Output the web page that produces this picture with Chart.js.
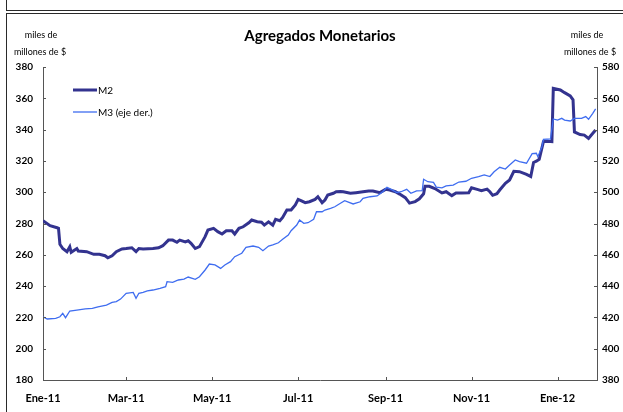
<!DOCTYPE html>
<html>
<head>
<meta charset="utf-8">
<script src="https://cdn.jsdelivr.net/npm/chart.js@4/dist/chart.umd.min.js"></script>
<style>
  html, body { margin:0; padding:0; background:#fff; overflow:hidden; }
  #wrap { position:relative; width:623px; height:412px; overflow:hidden; }
  .box { position:absolute; box-sizing:border-box; border:1.5px solid #2a2a2a; }
  #b1 { left:6px; top:-4px; width:700px; height:14.5px; }
  #b2 { left:6px; top:13.3px; width:700px; height:500px; }
  canvas { position:absolute; left:0; top:0; }
</style>
</head>
<body>
<div id="wrap">
  <div class="box" id="b1"></div>
  <div class="box" id="b2"></div>
  <canvas id="c" width="623" height="412"></canvas>
</div>
<script>
// ---- Data (days since 1 Jan 2011) ----
const chartTitle = "Agregados Monetarios";
const unitLines = ["miles de", "millones de $"];
const seriesLabels = ["M2", "M3 (eje der.)"];

const tickDays   = [0, 59, 120, 181, 243, 304, 365];
const tickLabels = ["Ene-11", "Mar-11", "May-11", "Jul-11", "Sep-11", "Nov-11", "Ene-12"];

const m2Days = [0,5,10,11,12,14,17,19,20,24,
  25,31,36,40,44,46,49,52,56,59,
  63,66,68,71,78,82,85,89,92,95,
  97,101,103,105,108,111,115,117,121,124,
  127,130,134,136,139,142,146,148,152,155,
  157,160,163,165,168,170,173,176,179,181,
  183,186,189,193,195,198,200,202,206,208,
  211,213,218,222,227,231,234,239,243,246,
  250,253,257,260,264,267,270,271,274,278,
  283,286,290,293,297,302,304,308,311,315,
  317,319,322,324,328,331,334,338,343,346,
  348,350,352,355,358,361,362,367,370,374,
  376,377,381,384,387,389,392];
const m2Values = [281.8,278.6,277.3,276.9,266.7,264,262,265.2,261.6,264,
  262.4,262,260.3,260.3,259.4,258.1,259.4,262,263.7,264,
  264.5,262,264,263.7,264,264.5,265.8,269.4,269.4,268,
  269.4,268.2,269,267.3,264,265.2,271.6,275.8,276.9,274.8,
  273.3,275.4,275.4,273.3,276.9,277.9,280.5,282.2,281.1,280.8,
  279,281.1,279,282.7,281.8,283.9,288.6,288.6,291.8,295.4,
  294.6,293.3,293.9,295.4,297.1,293.3,295,298.2,299.3,300.3,
  300.5,300.3,299.3,299.7,300.3,300.8,300.8,299.7,301.8,301.4,
  300.3,298.8,296.5,293,294,295.8,299,303.8,303.8,302.3,
  299.5,300.3,297.8,299.5,299.5,299.7,302.8,301.8,301,302,
  300.3,298,299,301.4,305.7,307.8,313.4,313.1,311.4,310,
  319,319.8,321,332.3,332.5,332.3,366.4,365.3,363.6,361.5,
  359,338.5,336.8,336.5,334.4,336.5,339.7];

const m3Days = [0,3,9,12,14,16,19,24,30,35,
  39,45,49,52,55,59,64,66,68,71,
  74,78,83,87,88,92,96,100,103,108,
  111,115,118,122,126,129,133,136,141,144,
  149,153,156,160,163,167,170,174,176,180,
  182,185,188,192,194,198,200,204,207,211,
  214,220,225,227,232,237,241,244,247,251,
  254,258,261,265,269,270,273,277,279,283,
  286,291,295,300,304,309,313,317,320,324,
  328,331,335,338,343,347,350,351,354,355,
  360,362,365,368,370,374,377,382,385,387,
  390,392];
const m3Values = [420.4,419,419.4,420.4,422.6,419.8,424.1,424.7,425.4,425.8,
  426.8,427.9,429.6,430.1,431.7,435.4,436,432.2,435.4,436,
  436.9,437.5,438.6,439.6,442.8,442.4,443.9,444.5,445.8,444.3,
  446,450.3,454.1,453.5,451.3,453.5,455.6,458.8,461,464.8,
  465.6,464.8,462.6,465.6,466.3,467.7,469.9,472.6,475.4,479,
  482.2,480.1,480.5,482.7,487.5,487.5,488.6,489.7,490.7,492.9,
  494.6,492.5,493.9,496.1,497.1,497.6,500.3,503.1,501.8,499.7,
  500.3,501.8,499.3,500.9,501,508.3,506.7,506.3,503.3,502.8,
  504,504.5,506.5,507,508.9,509.9,511,510,513.1,515.9,
  514.8,517.4,520.6,519.5,518.5,524.6,524.9,522.7,529.1,533.8,
  534,546.8,546.1,547.2,546.1,545.5,547.2,547.2,548.3,546.6,
  550.4,553.2];

// ---- Styles ----
const M2_COLOR = "#33338f";
const M3_COLOR = "#3f6df0";
const AXIS_COLOR = "#555555";
const FONT = "Lato, 'DejaVu Sans', sans-serif";

Chart.defaults.font.family = FONT;
Chart.defaults.color = "#000";

const toPts = (xs, ys) => xs.map((d, i) => ({ x: d, y: ys[i] }));

const decor = {
  id: "decor",
  afterDraw(chart) {
    const ctx = chart.ctx;
    const ca = chart.chartArea;
    const sx = chart.scales.x, sy = chart.scales.y, sy2 = chart.scales.y2;
    ctx.save();
    // inward tick marks
    ctx.strokeStyle = AXIS_COLOR;
    ctx.lineWidth = 1;
    ctx.beginPath();
    sy.ticks.forEach(t => {
      const p = Math.round(sy.getPixelForValue(t.value)) + 0.5;
      ctx.moveTo(ca.left, p); ctx.lineTo(ca.left + 3, p);
    });
    sy2.ticks.forEach(t => {
      const p = Math.round(sy2.getPixelForValue(t.value)) + 0.5;
      ctx.moveTo(ca.right - 3, p); ctx.lineTo(ca.right, p);
    });
    sx.ticks.forEach(t => {
      const p = Math.round(sx.getPixelForValue(t.value)) + 0.5;
      ctx.moveTo(p, ca.bottom); ctx.lineTo(p, ca.bottom - 3);
    });
    ctx.stroke();

    // title
    ctx.fillStyle = "#000";
    ctx.textAlign = "center";
    ctx.textBaseline = "middle";
    ctx.font = "bold 15px " + FONT;
    ctx.fillText(chartTitle, (ca.left + ca.right) / 2, 36);

    // unit labels
    ctx.font = "9px " + FONT;
    ctx.fillText(unitLines[0], 41, 35);
    ctx.fillText(unitLines[1], 40, 52);
    ctx.fillText(unitLines[0], 587, 35);
    ctx.fillText(unitLines[1], 590, 52);

    // legend
    const ds = chart.data.datasets;
    const rows = [90, 112];
    ctx.textAlign = "left";
    ctx.font = "10px " + FONT;
    ds.forEach((d, i) => {
      const y = rows[i];
      ctx.strokeStyle = d.borderColor;
      ctx.lineWidth = d.borderWidth;
      ctx.beginPath();
      ctx.moveTo(73, y); ctx.lineTo(97, y);
      ctx.stroke();
      ctx.fillStyle = "#000";
      ctx.fillText(d.label, 98, y + 0.5);
    });
    ctx.restore();
  }
};

new Chart(document.getElementById("c"), {
  type: "line",
  data: {
    datasets: [
      { label: seriesLabels[0], data: toPts(m2Days, m2Values), yAxisID: "y",
        borderColor: M2_COLOR, borderWidth: 3, pointRadius: 0, tension: 0, order: 2 },
      { label: seriesLabels[1], data: toPts(m3Days, m3Values), yAxisID: "y2",
        borderColor: M3_COLOR, borderWidth: 1.3, pointRadius: 0, tension: 0, order: 1 }
    ]
  },
  options: {
    responsive: false,
    animation: false,
    devicePixelRatio: 1,
    layout: { padding: { top: 67, left: 0, right: 0, bottom: 0 } },
    plugins: { legend: { display: false }, title: { display: false }, tooltip: { enabled: false } },
    scales: {
      x: {
        type: "linear", min: 0, max: 393,
        afterBuildTicks(scale) { scale.ticks = tickDays.map(v => ({ value: v })); },
        afterFit(scale) { scale.height = 32; },
        grid: { display: false, drawTicks: false },
        border: { display: true, color: AXIS_COLOR, width: 1 },
        ticks: { autoSkip: false, maxRotation: 0, padding: 12,
          font: { size: 11, weight: "bold" }, color: "#000",
          callback: (v, i) => tickLabels[i] }
      },
      y: {
        position: "left", min: 180, max: 380,
        afterFit(scale) { scale.width = 43; },
        grid: { display: false, drawTicks: false },
        border: { display: true, color: AXIS_COLOR, width: 1 },
        ticks: { stepSize: 20, padding: 10, font: { size: 10, weight: "bold" }, color: "#000" }
      },
      y2: {
        position: "right", min: 380, max: 580,
        afterFit(scale) { scale.width = 26; },
        grid: { display: false, drawTicks: false },
        border: { display: true, color: AXIS_COLOR, width: 1 },
        ticks: { stepSize: 20, padding: 5, font: { size: 10, weight: "bold" }, color: "#000" }
      }
    }
  },
  plugins: [decor]
});
</script>
</body>
</html>
